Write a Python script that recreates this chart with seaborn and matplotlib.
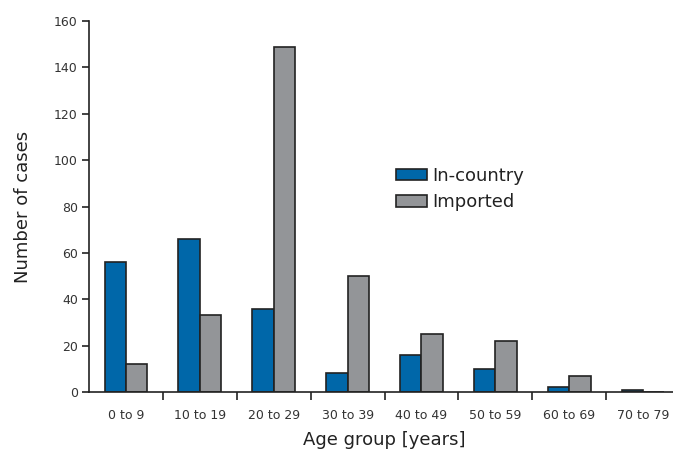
import matplotlib
matplotlib.use("Agg")
import matplotlib.pyplot as plt
import seaborn as sns
import pandas as pd
import numpy as np
from matplotlib.patches import Patch

categories = ["0 to 9", "10 to 19", "20 to 29", "30 to 39", "40 to 49", "50 to 59", "60 to 69", "70 to 79"]
in_country = [56, 66, 36, 8, 16, 10, 2, 1]
imported = [12, 33, 149, 50, 25, 22, 7, 0]
series_names = ["In-country", "Imported"]
colors = ["#0067A9", "#939598"]

df = pd.DataFrame({
    "Age group": categories * 2,
    "Cases": in_country + imported,
    "Series": [series_names[0]] * len(categories) + [series_names[1]] * len(categories),
})

sns.set_style("white")
plt.rcParams["font.family"] = ["Liberation Sans Narrow", "DejaVu Sans"]

fig = plt.figure(figsize=(6.73, 4.49), dpi=100)
ax = fig.add_axes([89 / 673, 1 - 392 / 449, (680 - 89) / 673, (392 - 21) / 449])

sns.barplot(data=df, x="Age group", y="Cases", hue="Series", order=categories,
            hue_order=series_names, palette=colors, width=0.58, gap=0,
            edgecolor="#222222", linewidth=1.2, saturation=1, ax=ax, legend=False)

ax.set_xlim(-0.5, len(categories) - 0.5)
ax.set_ylim(0, 160)
ax.set_yticks(np.arange(0, 161, 20))
ax.tick_params(axis="y", direction="out", length=5, width=1.2, color="#222222",
               labelsize=9, labelcolor="#333333", left=True, pad=3)
ax.set_xticks(range(len(categories)))
ax.set_xticklabels(categories)
ax.tick_params(axis="x", which="major", length=0, labelsize=9, labelcolor="#333333", pad=12)
ax.set_xticks(np.arange(0.5, len(categories) - 0.5, 1), minor=True)
ax.tick_params(axis="x", which="minor", direction="out", length=6, width=1.2, color="#222222", bottom=True)

for side in ["top", "right"]:
    ax.spines[side].set_visible(False)
for side in ["left", "bottom"]:
    ax.spines[side].set_color("#222222")
    ax.spines[side].set_linewidth(1.2)

ax.set_ylabel("Number of cases", fontsize=13, color="#222222", labelpad=16)
ax.set_xlabel("Age group [years]", fontsize=13, color="#222222", labelpad=7)

handles = [Patch(facecolor=c, edgecolor="#222222", linewidth=1.2) for c in colors]
ax.legend(handles, series_names, loc="upper left", bbox_to_anchor=(0.492, 0.65),
          frameon=False, fontsize=13, handlelength=1.7, handleheight=0.6,
          handletextpad=0.3, labelspacing=0.45, labelcolor="#222222")

fig.savefig("out.png", dpi=100)
